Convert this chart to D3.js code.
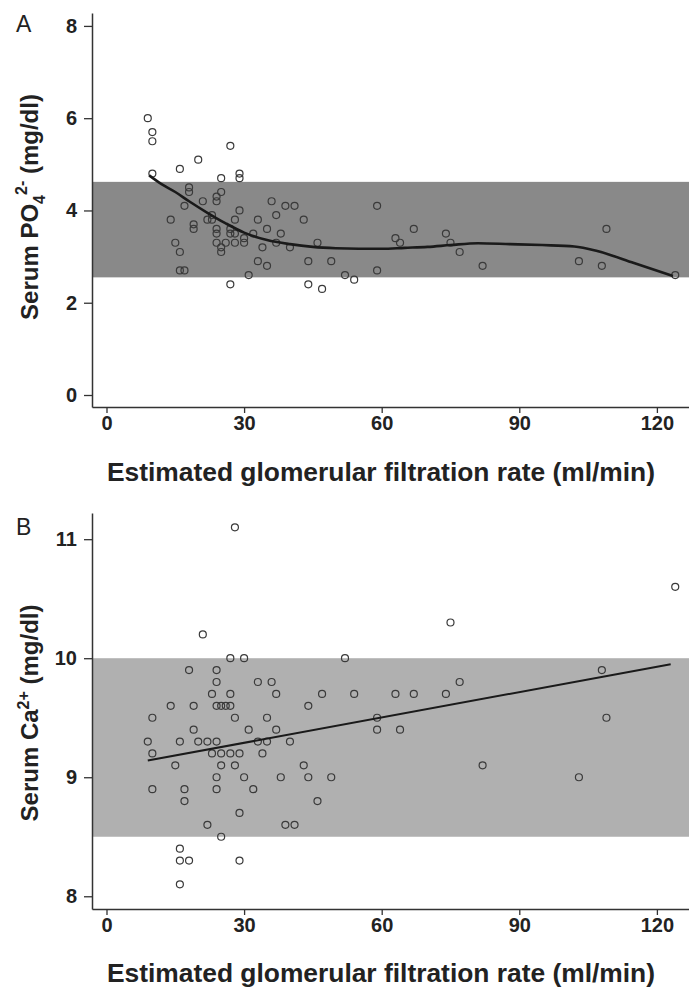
<!DOCTYPE html>
<html>
<head>
<meta charset="utf-8">
<script src="https://cdn.jsdelivr.net/npm/d3@7"></script>
<style>
  body { margin: 0; background: #fff; }
  svg { display: block; }
  text { font-family: "Liberation Sans", Arial, sans-serif; }
</style>
</head>
<body>
<div id="chart"></div>
<script>
// Panel A: serum phosphate vs eGFR
const phosEgfr = [9,10,10,10,16,20,27,29,29,25,18,18,25,17,21,24,24,22,23,23,14,19,19,15,16,16,17,24,24,24,25,25,26,27,27,28,28,28,29,30,30,27,31,32,33,33,34,35,35,36,37,37,38,39,41,40,43,44,44,46,47,49,52,54,59,59,63,64,67,74,75,77,82,103,108,109,124];
const phosValue = [6.0,5.7,5.5,4.8,4.9,5.1,5.4,4.8,4.7,4.7,4.5,4.4,4.4,4.1,4.2,4.3,4.2,3.8,3.8,3.9,3.8,3.7,3.6,3.3,3.1,2.7,2.7,3.6,3.5,3.3,3.2,3.1,3.3,3.6,3.5,3.8,3.5,3.3,4.0,3.4,3.3,2.4,2.6,3.5,3.8,2.9,3.2,3.6,2.8,4.2,3.9,3.3,3.5,4.1,4.1,3.2,3.8,2.9,2.4,3.3,2.3,2.9,2.6,2.5,4.1,2.7,3.4,3.3,3.6,3.5,3.3,3.1,2.8,2.9,2.8,3.6,2.6];
const phosRange = [2.55, 4.62];
// smoothed (loess) curve
const phosCurveX = [9.3,12,15,18,22,26,30,35,40,45,50,55,60,65,70,75,81,88,95,102,107,115,123.5];
const phosCurveY = [4.76,4.57,4.40,4.20,3.95,3.72,3.52,3.36,3.27,3.21,3.18,3.17,3.17,3.19,3.21,3.25,3.29,3.27,3.25,3.22,3.12,2.86,2.58];

// Panel B: serum calcium vs eGFR
const caEgfr = [28,124,75,21,27,30,52,18,24,108,24,33,36,77,23,27,37,47,54,63,67,74,14,19,24,25,26,27,44,10,28,35,59,109,19,31,37,59,64,9,16,20,22,24,33,35,40,10,23,25,27,29,34,15,25,28,43,82,24,30,38,44,49,103,10,17,24,32,17,46,29,22,39,41,25,16,16,18,29,16];
const caValue = [11.1,10.6,10.3,10.2,10.0,10.0,10.0,9.9,9.9,9.9,9.8,9.8,9.8,9.8,9.7,9.7,9.7,9.7,9.7,9.7,9.7,9.7,9.6,9.6,9.6,9.6,9.6,9.6,9.6,9.5,9.5,9.5,9.5,9.5,9.4,9.4,9.4,9.4,9.4,9.3,9.3,9.3,9.3,9.3,9.3,9.3,9.3,9.2,9.2,9.2,9.2,9.2,9.2,9.1,9.1,9.1,9.1,9.1,9.0,9.0,9.0,9.0,9.0,9.0,8.9,8.9,8.9,8.9,8.8,8.8,8.7,8.6,8.6,8.6,8.5,8.4,8.3,8.3,8.3,8.1];
const caRange = [8.5, 10.0];
const caFitX = [9, 123];
const caFitY = [9.14, 9.95];

const xTicks = [0, 30, 60, 90, 120];
const xTitle = "Estimated glomerular filtration rate (ml/min)";

const W = 689, H = 987;
const svg = d3.select("#chart").append("svg").attr("width", W).attr("height", H);

function panel(cfg) {
  const g = svg.append("g");
  const x = d3.scaleLinear().domain([-3.16, 127]).range([92, 689]);
  const y = d3.scaleLinear().domain(cfg.yDomain).range([cfg.bottom, cfg.top]);

  // reference range band
  g.append("rect")
    .attr("x", x(-3.16)).attr("width", x(127) - x(-3.16))
    .attr("y", y(cfg.band[1])).attr("height", y(cfg.band[0]) - y(cfg.band[1]))
    .attr("fill", cfg.bandColor);

  // points
  g.selectAll("circle").data(cfg.xs.map((d, i) => [d, cfg.ys[i]]))
    .enter().append("circle")
    .attr("cx", d => x(d[0])).attr("cy", d => y(d[1]))
    .attr("r", 3.5)
    .attr("fill", "none").attr("stroke", "#3a3a3a").attr("stroke-width", 1.2);

  // fitted line
  const line = d3.line().x(d => x(d[0])).y(d => y(d[1])).curve(cfg.curve);
  g.append("path")
    .datum(cfg.lineX.map((d, i) => [d, cfg.lineY[i]]))
    .attr("d", line).attr("fill", "none")
    .attr("stroke", "#1a1a1a").attr("stroke-width", cfg.lineW);

  // axes
  const xAxis = g.append("g").attr("transform", `translate(0,${cfg.bottom})`)
    .call(d3.axisBottom(x).tickValues(xTicks).tickSize(6).tickSizeOuter(0));
  const yAxis = g.append("g").attr("transform", "translate(92,0)")
    .call(d3.axisLeft(y).tickValues(cfg.yTicks).tickFormat(d3.format("d")).tickSize(8).tickSizeOuter(0));
  [xAxis, yAxis].forEach(a => {
    a.select(".domain").attr("stroke", "#333").attr("stroke-width", 1.5);
    a.selectAll(".tick line").attr("stroke", "#333").attr("stroke-width", 1.3);
    a.selectAll(".tick text").attr("fill", "#222")
      .style("font-size", "20px").style("font-weight", "bold")
      .style("font-family", "'Liberation Sans', Arial, sans-serif");
  });
  yAxis.selectAll(".tick text").attr("x", -15);

  g.append("text")
    .attr("x", 381).attr("y", cfg.xTitleY)
    .attr("text-anchor", "middle")
    .attr("textLength", 548).attr("lengthAdjust", "spacingAndGlyphs")
    .style("font-size", "26px").style("font-weight", "bold").attr("fill", "#222")
    .text(xTitle);

  const yt = g.append("text")
    .attr("transform", `translate(38,${cfg.yTitleC}) rotate(-90)`)
    .attr("text-anchor", "middle")
    .style("font-size", "24px").style("font-weight", "bold").attr("fill", "#222");
  cfg.yTitle(yt);

  g.append("text").attr("x", 16).attr("y", cfg.labelY)
    .style("font-size", "23px").attr("fill", "#222").text(cfg.label);
}

panel({
  xs: phosEgfr, ys: phosValue, band: phosRange, bandColor: "#898989",
  yDomain: [-0.26, 8.28], top: 13, bottom: 407, yTicks: [0, 2, 4, 6, 8],
  lineX: phosCurveX, lineY: phosCurveY, curve: d3.curveMonotoneX, lineW: 2.6,
  xTitleY: 481, yTitleC: 207, label: "A", labelY: 32,
  yTitle: t => {
    t.append("tspan").text("Serum PO");
    t.append("tspan").attr("dy", 7).style("font-size", "16px").text("4");
    t.append("tspan").attr("dy", -18).style("font-size", "16px").text("2-");
    t.append("tspan").attr("dy", 11).text(" (mg/dl)");
  }
});

panel({
  xs: caEgfr, ys: caValue, band: caRange, bandColor: "#b0b0b0",
  yDomain: [7.893, 11.22], top: 513, bottom: 909, yTicks: [8, 9, 10, 11],
  lineX: caFitX, lineY: caFitY, curve: d3.curveLinear, lineW: 2,
  xTitleY: 982, yTitleC: 713, label: "B", labelY: 535,
  yTitle: t => {
    t.append("tspan").text("Serum Ca");
    t.append("tspan").attr("dy", -9).style("font-size", "16px").text("2+");
    t.append("tspan").attr("dy", 9).text(" (mg/dl)");
  }
});
</script>
</body>
</html>
